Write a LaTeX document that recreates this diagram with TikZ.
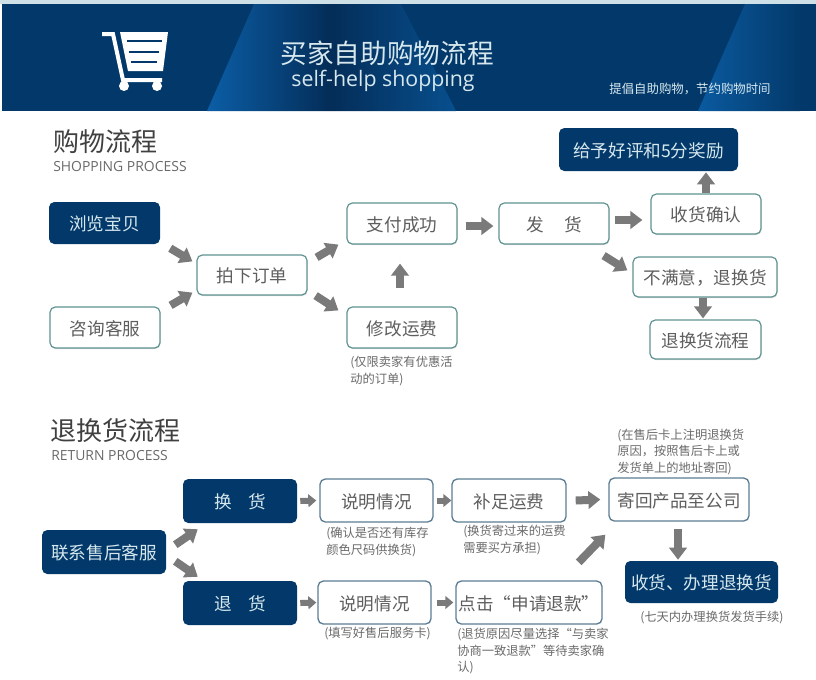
\documentclass[tikz,border=0pt]{standalone}
\usepackage{fontspec}
\setmainfont{Noto Sans CJK SC}
\newfontfamily\latinfont{Open Sans}
\usetikzlibrary{arrows.meta,shadows}

\definecolor{navy}{HTML}{03396A}
\definecolor{beam}{HTML}{0B5EA6}
\definecolor{beamdark}{HTML}{042D58}
\definecolor{paleline}{HTML}{CFE0E6}
\definecolor{tealline}{HTML}{5F9492}
\definecolor{slateline}{HTML}{5C7D94}
\definecolor{boxtext}{HTML}{5E5E5E}
\definecolor{notetext}{HTML}{6A6A6A}
\definecolor{flowgray}{HTML}{7A7A7A}
\definecolor{paletext}{HTML}{D6E8EE}

\tikzset{
    boxsize/.style 2 args={minimum width=#1*0.75pt, minimum height=#2*0.75pt},
    basebox/.style={rounded corners=4pt, inner sep=0pt, text height=13.6pt, text depth=1.8pt,
        font=\fontsize{13.2}{15}\selectfont},
    darkbox/.style={basebox, fill=navy, text=paletext},
    lightbox/.style={basebox, fill=white, draw=tealline, line width=0.9pt, text=boxtext,
        drop shadow={shadow xshift=0.4pt, shadow yshift=-0.8pt, opacity=0.3}},
    slatebox/.style={basebox, fill=white, draw=slateline, line width=1pt, text=boxtext},
    notetag/.style={anchor=west, align=left, inner sep=0pt, text=notetext,
        font=\fontsize{9.2}{12.2}\selectfont},
    flow/.style={draw=flowgray, line width=6pt,
        -{Triangle[length=9pt,width=13pt,fill=flowgray]}},
    smallflow/.style={draw=flowgray, line width=4.5pt,
        -{Triangle[length=6pt,width=9.5pt,fill=flowgray]}},
}

\begin{document}
\begin{tikzpicture}[x=0.75pt,y=-0.75pt]
    \useasboundingbox (0,0) rectangle (816,679);
    \fill[white] (0,0) rectangle (816,679);

    % Banner
    \fill[paleline] (0,0) rectangle (816,4);
    \fill[navy] (2,4) rectangle (816,111);
    \shade[left color=beam, right color=beamdark] (254,4) -- (330,4) -- (330,111) -- (207,111) -- cycle;
    \shade[left color=beamdark, right color=beam!60!navy] (330,4) -- (401,4) -- (456,111) -- (330,111) -- cycle;
    \shade[left color=beam!90!navy, right color=navy] (745,4) -- (800,4) -- (800,111) -- (698,111) -- cycle;

    % Cart
    \draw[white, line width=3pt] (102,34) -- (113,34) -- (123,80) -- (162,80);
    \fill[white] (120,32) -- (168,32) -- (163,71) -- (128,71) -- cycle;
    \draw[navy, line width=2pt] (127,41) -- (162,41);
    \draw[navy, line width=2pt] (129,52) -- (159,52);
    \draw[navy, line width=2pt] (131,62) -- (157,62);
    \fill[white] (124,86) circle (5);
    \fill[white] (157,86) circle (5);

    \node[text=paletext, font=\fontsize{20}{24}\selectfont] (bannertitle) at (387,53) {买家自助购物流程};
    \node[text=paletext, font=\latinfont\fontsize{16}{18}\selectfont] (bannersub) at (383,81) {self-help shopping};
    \node[text=paletext, font=\fontsize{9.3}{11}\selectfont] (bannertag) at (690,89) {提倡自助购物，节约购物时间};

    % Shopping process
    \node[anchor=west, inner sep=0pt, text=black!75, font=\fontsize{19.5}{22}\selectfont] (shoptitle) at (53,142) {购物流程};
    \node[anchor=west, inner sep=0pt, text=notetext, font=\latinfont\fontsize{10.45}{12}\selectfont] (shopsub) at (53,167) {SHOPPING PROCESS};

    \node[darkbox, boxsize={111}{42}] (browse) at (104.5,223) {浏览宝贝};
    \node[lightbox, boxsize={110}{41}] (consult) at (105,327.5) {咨询客服};
    \node[lightbox, boxsize={110}{40}] (order) at (252,275) {拍下订单};
    \node[lightbox, boxsize={110}{41}] (paid) at (402,223.5) {支付成功};
    \node[lightbox, boxsize={110}{41}] (freight) at (402,327.5) {修改运费};
    \node[lightbox, boxsize={110}{41}] (ship) at (554,223.5) {发\hspace{15pt}货};
    \node[lightbox, boxsize={110}{40}] (confirm) at (706,214) {收货确认};
    \node[darkbox, boxsize={179}{43}] (reward) at (648.5,149.5) {给予好评和5分奖励};
    \node[lightbox, boxsize={144}{40}] (unhappy) at (705,277) {不满意，退换货};
    \node[lightbox, boxsize={111}{39}] (returnflow) at (705.5,339.5) {退换货流程};
    \node[notetag] (freightnote) at (350,371) {(仅限卖家有优惠活\\动的订单)};

    \draw[flow] ([shift={(10,4)}]browse.south east) -- ([shift={(-4,7)}]order.north west);
    \draw[flow] ([shift={(10,-1)}]consult.north east) -- ([shift={(-4,-3)}]order.south west);
    \draw[flow] ([shift={(9,3)}]order.north east) -- ([shift={(-8,0)}]paid.south west);
    \draw[flow] ([shift={(8,0)}]order.south east) -- ([shift={(-8,4)}]freight.north west);
    \draw[flow] ([shift={(-2,-18)}]freight.north) -- ([shift={(-2,19)}]paid.south);
    \draw[flow] ([shift={(8,2.5)}]paid.east) -- ([shift={(-5,2.5)}]ship.west);
    \draw[flow] ([shift={(5,-3.5)}]ship.east) -- ([shift={(-8,6)}]confirm.west);
    \draw[flow] ([shift={(-6,11)}]ship.south east) -- ([shift={(-5,14)}]unhappy.north west);
    \draw[flow] (confirm.north) -- ([shift={(57.5,1)}]reward.south);
    \draw[flow] ([shift={(-2,0)}]unhappy.south) -- ([shift={(-2.5,-1)}]returnflow.north);

    % Return process
    \node[anchor=west, inner sep=0pt, text=black!75, font=\fontsize{19.5}{22}\selectfont] (returntitle) at (50,431) {退换货流程};
    \node[anchor=west, inner sep=0pt, text=notetext, font=\latinfont\fontsize{10.45}{12}\selectfont] (returnsub) at (51,456) {RETURN PROCESS};

    \node[darkbox, boxsize={124}{44}] (service) at (104,552) {联系售后客服};
    \node[darkbox, boxsize={114}{44}] (exchange) at (240,501) {换\hspace{12pt}货};
    \node[darkbox, boxsize={114}{44}] (refund) at (240,603) {退\hspace{12pt}货};
    \node[slatebox, boxsize={113}{43}] (explainA) at (376.5,500.5) {说明情况};
    \node[slatebox, boxsize={113}{43}] (explainB) at (374.5,602.5) {说明情况};
    \node[slatebox, boxsize={114}{43}] (topup) at (509,500.5) {补足运费};
    \node[slatebox, boxsize={146}{43}] (apply) at (529,602.5) {点击“申请退款”};
    \node[slatebox, boxsize={140}{43}] (sendback) at (679,499.5) {寄回产品至公司};
    \node[darkbox, boxsize={153}{42}] (handle) at (701.5,582) {收货、办理退换货};

    \node[notetag] (sendnote) at (617,452) {(在售后卡上注明退换货\\原因，按照售后卡上或\\发货单上的地址寄回)};
    \node[notetag] (explainnoteA) at (326,542) {(确认是否还有库存\\颜色尺码供换货)};
    \node[notetag] (topupnote) at (463,540) {(换货寄过来的运费\\需要买方承担)};
    \node[notetag] (explainnoteB) at (324,634) {(填写好售后服务卡)};
    \node[notetag] (applynote) at (457,651) {(退货原因尽量选择“与卖家\\协商一致退款”等待卖家确\\认)};
    \node[notetag] (handlenote) at (640,618) {(七天内办理换货发货手续)};

    \draw[flow] ([shift={(9,15)}]service.north east) -- ([shift={(15,6)}]exchange.south west);
    \draw[flow] ([shift={(9,-13)}]service.south east) -- ([shift={(15,-4)}]refund.north west);
    \draw[smallflow] ([xshift=2.25pt]exchange.east) -- ([xshift=-2.25pt]explainA.west);
    \draw[smallflow] ([xshift=2.25pt]refund.east) -- ([xshift=-0.75pt]explainB.west);
    \draw[smallflow] ([xshift=2.25pt]explainA.east) -- (topup.west);
    \draw[smallflow] ([xshift=3.75pt]explainB.east) -- ([xshift=-1.5pt]apply.west);
    \draw[flow] ([shift={(9,0)}]topup.east) -- ([shift={(-8,0)}]sendback.west);
    \draw[flow] ([shift={(-24,-18)}]apply.north east) -- ([shift={(-3,13)}]sendback.south west);
    \draw[flow] ([shift={(-1,7)}]sendback.south) -- ([shift={(-23.5,-1)}]handle.north);
\end{tikzpicture}
\end{document}
